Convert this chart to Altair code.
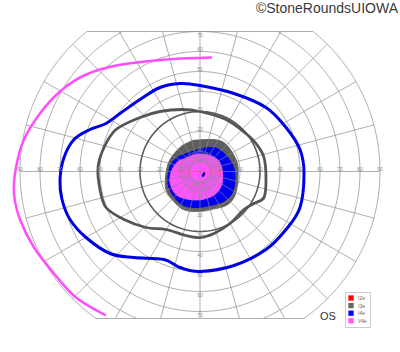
import altair as alt
import numpy as np
import pandas as pd

# ---- isopter readings (degrees; x horizontal, y vertical) ----
i4e_x = [-10, 0, 17, 33, 43, 50, 52, 50, 43, 33, 17, 0, -10, -18, -33, -45, -57, -65, -69, -70, -68, -63, -55, -47, -40, -30, -20]
i4e_y = [44, 43, 39, 32, 22, 11, -1, -18, -29, -39, -47, -50, -48, -44, -43, -41, -33, -24, -14, -4, 7, 16, 21, 24, 29, 36, 42]

i3e_x = [-9, 0, 13, 23, 28, 32, 33, 32, 27, 22, 15, 7, 0, -7, -17, -27, -38, -47, -50, -51, -48, -42, -30, -20]
i3e_y = [31, 30, 26, 19, 14, 7, -4, -13, -16, -19, -26, -31, -33, -32, -29, -28, -24, -18, -9, 2, 12, 21, 27, 30]

v4e_x = [6, -17, -42, -58, -70, -80, -88, -92, -93, -90, -83, -73, -62, -47]
v4e_y = [57, 56, 53, 48, 40, 29, 16, 2, -11, -24, -38, -51, -63, -72]

# central filled areas
gray_x = [-1.7, 11, 18, 19, 17.5, 13, 5, -1.7, -8.3, -13, -17, -17, -15, -10, -6]
gray_y = [15.7, 15, 6, -2.6, -12, -17, -19, -20, -19, -15, -9, -1, 6, 12, 14.4]

blue_x = [1.7, 8, 13, 16.7, 17.5, 16, 11.7, 5, -1.7, -8, -13, -16, -15, -11.7, -6.7, -1.7]
blue_y = [11.7, 11.7, 8, 2.4, -4, -11, -15, -17, -18, -17, -12.6, -6, 2.4, 6.7, 9, 10.7]

mag_x = [-1, 4, 9, 11, 11, 8, 3.3, -1.7, -8, -12.5, -15, -14, -11, -6.7, -3.3]
mag_y = [8.7, 8.2, 5.7, 0.7, -6, -11, -13.4, -14.2, -13.4, -11, -5, 0.7, 5, 6.7, 8.2]

dot_x = [2.4, 2.1, 1.4, 1.1, 1.5, 2.0]
dot_y = [-0.7, -1.9, -2.7, -2.0, -1.0, -0.5]

# grid / labels
circle_radii = [5, 10, 20, 30, 40, 50, 60, 70, 80, 90]
h_labels = [10, 20, 30, 40, 50, 60, 70, 80, 90]
v_labels = [10, 20, 30, 40, 50, 60, 70]
legend_names = ["I2e", "I3e", "I4e", "V4e"]
legend_colors = ["#ff0000", "#666666", "#0000ff", "#ff55ff"]
TOP, BOT = 70, -73.5

XS = alt.Scale(domain=[-100, 100], nice=False, zero=False)
YS = alt.Scale(domain=[-90.25, 85.75], nice=False, zero=False)


def xy(df):
    return dict(x=alt.X("x:Q", scale=XS, axis=None), y=alt.Y("y:Q", scale=YS, axis=None))


def shape_df(xs, ys):
    return pd.DataFrame({"x": xs, "y": ys, "i": range(len(xs))})


def fill_layer(xs, ys, color):
    return alt.Chart(shape_df(xs, ys)).mark_line(
        interpolate="cardinal-closed", fill=color, stroke=color, strokeWidth=1
    ).encode(order="i:Q", **xy(None))


def line_layer(xs, ys, color, width, closed=True):
    return alt.Chart(shape_df(xs, ys)).mark_line(
        interpolate="cardinal-closed" if closed else "cardinal", color=color, strokeWidth=width
    ).encode(order="i:Q", **xy(None))


# build grid geometry
rows = []
gid = 0
for r in circle_radii:
    if r <= 70:
        segs = [np.linspace(0, 2 * np.pi, 241)]
    else:
        at = np.arcsin(TOP / r)
        ab = np.arcsin(-BOT / r)
        segs = [np.linspace(-ab, at, 120), np.linspace(np.pi - at, np.pi + ab, 120)]
    for s in segs:
        if r == 30:
            continue
        for k, a in enumerate(s):
            rows.append((gid, k, r * np.cos(a), r * np.sin(a)))
        gid += 1


def rmax(a):
    s = np.sin(a)
    m = 90.0
    if s > 1e-9:
        m = min(m, TOP / s)
    if s < -1e-9:
        m = min(m, -BOT / -s)
    return m


for k in range(24):
    a = np.radians(k * 15)
    r0 = 0 if k % 6 == 0 else 5
    r1 = rmax(a)
    rows.append((gid, 0, r0 * np.cos(a), r0 * np.sin(a)))
    rows.append((gid, 1, r1 * np.cos(a), r1 * np.sin(a)))
    gid += 1
for k in range(24):
    a = np.radians(k * 15 + 7.5)
    rows.append((gid, 0, 5 * np.cos(a), 5 * np.sin(a)))
    rows.append((gid, 1, 10 * np.cos(a), 10 * np.sin(a)))
    gid += 1
for yb in (TOP, BOT):
    hw = np.sqrt(90 ** 2 - yb ** 2)
    rows.append((gid, 0, -hw, yb))
    rows.append((gid, 1, hw, yb))
    gid += 1

grid_df = pd.DataFrame(rows, columns=["g", "i", "x", "y"])
grid = alt.Chart(grid_df).mark_line(color="#888888", opacity=0.68, strokeWidth=1).encode(
    detail="g:N", order="i:Q", **xy(None)
)

c30 = np.linspace(0, 2 * np.pi, 241)
c30_df = pd.DataFrame({"x": 30 * np.cos(c30), "y": 30 * np.sin(c30), "i": range(241)})
circle30 = alt.Chart(c30_df).mark_line(color="#5a5a5a", strokeWidth=1.6).encode(order="i:Q", **xy(None))

# labels
lab = []
for v in h_labels:
    lab.append((-v, 1.3, str(v)))
    lab.append((v, 1.3, str(v)))
for v in v_labels:
    lab.append((0, v + 1.3 if v < 70 else v - 1.6, str(v)))
    lab.append((0, -(v + 1.6), str(v)))
lab_df = pd.DataFrame(lab, columns=["x", "y", "t"])
labels = alt.Chart(lab_df).mark_text(fontSize=5, color="#8a8a8a", font="Liberation Sans").encode(
    text="t:N", **xy(None)
)

leg_df = pd.DataFrame({"name": legend_names, "x": [0] * 4, "y": [0] * 4})
legend = alt.Chart(leg_df).mark_square(opacity=0, size=1).encode(
    color=alt.Color(
        "name:N",
        scale=alt.Scale(domain=legend_names, range=legend_colors),
        legend=alt.Legend(
            orient="none", legendX=345, legendY=292, title=None, symbolType="square",
            symbolSize=28, symbolOpacity=1, symbolStrokeWidth=0, labelFontSize=5,
            labelColor="#666666", labelFont="Liberation Sans", rowPadding=1.6, padding=3,
            fillColor="white", strokeColor="#cccccc", labelOffset=4,
        ),
    ),
    **xy(None),
)

os_text = alt.Chart(pd.DataFrame({"t": ["OS"]})).mark_text(
    fontSize=11, color="#333333", font="Liberation Sans"
).encode(text="t:N", x=alt.value(328), y=alt.value(317))

copy_text = alt.Chart(pd.DataFrame({"t": ["©StoneRoundsUIOWA"]})).mark_text(
    fontSize=14, color="#3a3a3a", font="Liberation Sans", align="right", baseline="middle"
).encode(text="t:N", x=alt.value(398), y=alt.value(9))

chart = alt.layer(
    fill_layer(gray_x, gray_y, "#5f5f5f"),
    fill_layer(blue_x, blue_y, "#0000f0"),
    fill_layer(mag_x, mag_y, "#ff55ff"),
    fill_layer(dot_x, dot_y, "#0000c0"),
    grid,
    circle30,
    line_layer(i3e_x, i3e_y, "#555555", 2.8),
    line_layer(i4e_x, i4e_y, "#0000e6", 3),
    line_layer(v4e_x, v4e_y, "#ff4dff", 2.5, closed=False),
    labels,
    legend,
    os_text,
    copy_text,
).properties(
    width=400, height=352, padding=0, autosize=alt.AutoSizeParams(type="none")
).configure_view(stroke=None)

chart.save("out.html", embed_options={"renderer": "svg", "actions": False})
